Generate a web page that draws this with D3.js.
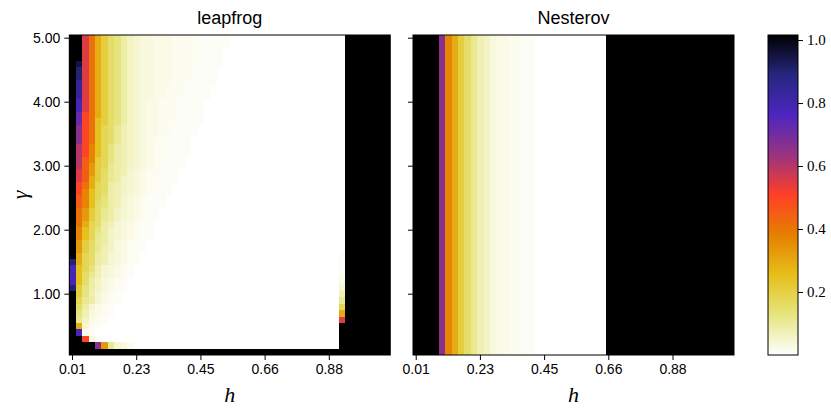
<!DOCTYPE html>
<html><head><meta charset="utf-8">
<script src="https://cdn.jsdelivr.net/npm/d3@7"></script>
<style>body{margin:0;background:#fff} svg{display:block}</style>
</head><body>
<script>
// ---------------- data ----------------
const nH = 50, nGamma = 50;                 // h columns, gamma rows (gamma 5.0 at top → 0.1 at bottom)
const xTickIdx = [0, 10, 20, 30, 40];
const xTickLabels = ["0.01", "0.23", "0.45", "0.66", "0.88"];
const yTickIdx = [0, 10, 20, 30, 40];
const yTickLabels = ["5.00", "4.00", "3.00", "2.00", "1.00"];
const cbarTicks = [0.2, 0.4, 0.6, 0.8, 1.0];
const cbarDomain = [0, 1.016];
// cell level codes -> values ('#' = saturated / not converged)
const levelCodes  = ".abcdefghijklmnopqrstuvwxyzBC#";
const levelValues = [0,0.008,0.015,0.025,0.035,0.045,0.06,0.075,0.09,0.11,0.13,0.155,0.18,0.21,0.25,0.29,0.33,0.37,0.41,0.45,0.50,0.55,0.60,0.66,0.72,0.78,0.84,0.90,0.95,1.016];
// each row: leading cells from h index 0 | trailing cells ending at last h index; cells between are 0
const leapfrogRows = [
"##uromkjhfeddcccbbbbaaaaa|#######",
"##uromkjhfeddcccbbbbaaaaa|#######",
"##uromkjhfeddcccbbbbaaaa|#######",
"##uromkjhfeddcccbbbbaaaa|#######",
"#Curomkjhfeddcccbbbbaaaa|#######",
"#Buromkjhfeddcccbbbaaaa|#######",
"#Buromkjhfeddcccbbbaaaa|#######",
"#zuromkjhfeddcccbbbaaaa|#######",
"#zuromkjhfeddccbbbaaaa|#######",
"#zuromkjhfeddccbbbaaaa|#######",
"#yuromkjhfedccbbbaaaa|#######",
"#yuromkjhfedccbbbaaaa|#######",
"#xtromkjhfedccbbbaaaa|#######",
"#xtrnmkjhfedccbbbaaaa|#######",
"#wtrnlkigfedccbbaaaa|#######",
"#wtrnlkigfedccbbaaaa|#######",
"#wtrnlkigfedcbbaaaa|#######",
"#vtqnljhgfedcbbaaaa|#######",
"#vtqnljhgfedcbbaaaa|#######",
"#vsqmljhgfedcbbaaa|#######",
"#vspmlihgfedcbbaaa|#######",
"#uspmkihgedcbbaaa|#######",
"#usomkihfedcbbaaa|#######",
"#trolkhgfedcbaaa|#######",
"#tqnlkhgfedcbaaa|#######",
"#sqnljhgedcbaaa|#######",
"#sqnkjhgedcbaaa|#######",
"#rpmkihfedcbaa|#######",
"#rpmkihfedcbaa|#######",
"#rolkhgedcbaa|#######",
"#qnljhfedcbaa|#######",
"#qnlihfedcbaa|#######",
"#pmkihfdcbaa|#######",
"#pmkigfdcbaa|#######",
"#olkhgedcba|a#######",
"Bolkhgedcba|a#######",
"ynljgedcba|a#######",
"ynkigedcba|b#######",
"ynkhfdcba|c#######",
"Bmjhfdcba|e#######",
"#mjgecba|g#######",
"#lihecba|i#######",
"#khecba|l#######",
"#jgdcba|o#######",
"#ifcba|u#######",
"#oeba|########",
"#yca|########",
"##tda|########",
"####wpiedb|########",
"|##################################################"
];
// Nesterov does not depend on gamma: the same row for every gamma
const nesterovRow = "####wqomkigfdccbbaa|####################";

// CMRmap segment data (used reversed)
const cmPos = [0, 0.125, 0.25, 0.375, 0.5, 0.625, 0.75, 0.875, 1];
const cmR = [0, 0.15, 0.30, 0.60, 1.00, 0.90, 0.90, 0.90, 1.00];
const cmG = [0, 0.15, 0.15, 0.20, 0.25, 0.50, 0.75, 0.90, 1.00];
const cmB = [0, 0.50, 0.75, 0.50, 0.15, 0.00, 0.10, 0.50, 1.00];

// ---------------- helpers ----------------
function parseRow(s) {
  const parts = s.split("|"), lead = parts[0], tail = parts[1] || "";
  const out = new Array(nH).fill(0);
  for (let i = 0; i < lead.length; i++) out[i] = levelValues[levelCodes.indexOf(lead[i])];
  for (let j = 0; j < tail.length; j++) out[nH - tail.length + j] = levelValues[levelCodes.indexOf(tail[j])];
  return out;
}
const lfGrid = leapfrogRows.map(parseRow);
const nsGrid = d3.range(nGamma).map(() => parseRow(nesterovRow));

const norm = d3.scaleLinear().domain(cbarDomain).range([0, 1]).clamp(true);
const sR = d3.scaleLinear().domain(cmPos).range(cmR);
const sG = d3.scaleLinear().domain(cmPos).range(cmG);
const sB = d3.scaleLinear().domain(cmPos).range(cmB);
function color(v) {
  const t = 1 - norm(v);
  return d3.rgb(sR(t) * 255, sG(t) * 255, sB(t) * 255).toString();
}

// ---------------- layout ----------------
const W = 831, H = 408;
const plotTop = 35, plotH = 320, plotW = 321;
const svg = d3.select("body").append("svg").attr("width", W).attr("height", H);
const sans = "'Liberation Sans', Arial, sans-serif";
const serif = "'Liberation Serif', 'DejaVu Serif', serif";

const panels = [
  { title: "leapfrog", x0: 69.3, grid: lfGrid, yLabels: true },
  { title: "Nesterov", x0: 413, grid: nsGrid, yLabels: false }
];

const y = d3.scaleBand().domain(d3.range(nGamma)).range([plotTop, plotTop + plotH]);

panels.forEach(p => {
  const x = d3.scaleBand().domain(d3.range(nH)).range([p.x0, p.x0 + plotW]);
  const g = svg.append("g");
  const cells = [];
  p.grid.forEach((row, r) => row.forEach((v, c) => cells.push({ r, c, v })));
  g.append("g").attr("shape-rendering", "crispEdges")
    .selectAll("rect").data(cells).join("rect")
    .attr("x", d => x(d.c)).attr("y", d => y(d.r))
    .attr("width", d => d.c === nH - 1 ? x.bandwidth() : x.bandwidth() + 1)
    .attr("height", d => d.r === nGamma - 1 ? y.bandwidth() : y.bandwidth() + 1)
    .attr("fill", d => color(d.v));

  // frame
  g.append("rect").attr("x", p.x0).attr("y", plotTop).attr("width", plotW).attr("height", plotH)
    .attr("fill", "none").attr("stroke", "#000").attr("stroke-width", 1);

  // x axis
  const xa = d3.axisBottom(x).tickValues(xTickIdx).tickFormat((d, i) => xTickLabels[i])
    .tickSize(5).tickPadding(4);
  const gx = g.append("g").attr("transform", `translate(0,${plotTop + plotH})`).call(xa);
  gx.select(".domain").remove();
  gx.selectAll("text").attr("font-family", sans).attr("font-size", 14).attr("fill", "#000");

  // y axis
  const ya = d3.axisLeft(y).tickValues(yTickIdx)
    .tickFormat((d, i) => p.yLabels ? yTickLabels[i] : "").tickSize(5).tickPadding(4);
  const gy = g.append("g").attr("transform", `translate(${p.x0},0)`).call(ya);
  gy.select(".domain").remove();
  gy.selectAll("text").attr("font-family", sans).attr("font-size", 14).attr("fill", "#000");

  // title
  g.append("text").attr("x", p.x0 + plotW / 2).attr("y", 24).attr("text-anchor", "middle")
    .attr("font-family", sans).attr("font-size", 18).text(p.title);

  // x label
  g.append("text").attr("x", p.x0 + plotW / 2).attr("y", 402).attr("text-anchor", "middle")
    .attr("font-family", serif).attr("font-style", "italic").attr("font-size", 22).text("h");
});

// y label
svg.append("text").attr("transform", `translate(27,${plotTop + plotH / 2}) rotate(-90)`)
  .attr("text-anchor", "middle").attr("font-family", serif).attr("font-style", "italic")
  .attr("font-size", 22).text("γ");

// ---------------- colorbar ----------------
const cbX = 768, cbW = 30;
const cScale = d3.scaleLinear().domain(cbarDomain).range([plotTop + plotH, plotTop]);
const cb = svg.append("g");
const steps = d3.range(0, plotH);
cb.append("g").attr("shape-rendering", "crispEdges")
  .selectAll("rect").data(steps).join("rect")
  .attr("x", cbX).attr("width", cbW)
  .attr("y", d => plotTop + d).attr("height", 1.5)
  .attr("fill", d => color(cScale.invert(plotTop + d + 0.5)));
cb.append("rect").attr("x", cbX).attr("y", plotTop).attr("width", cbW).attr("height", plotH)
  .attr("fill", "none").attr("stroke", "#000").attr("stroke-width", 1);
const ca = d3.axisRight(cScale).tickValues(cbarTicks).tickFormat(d3.format(".1f")).tickSize(5).tickPadding(4);
const gc = cb.append("g").attr("transform", `translate(${cbX + cbW},0)`).call(ca);
gc.select(".domain").remove();
gc.selectAll("text").attr("font-family", serif).attr("font-size", 15).attr("fill", "#000");
</script>
</body></html>
